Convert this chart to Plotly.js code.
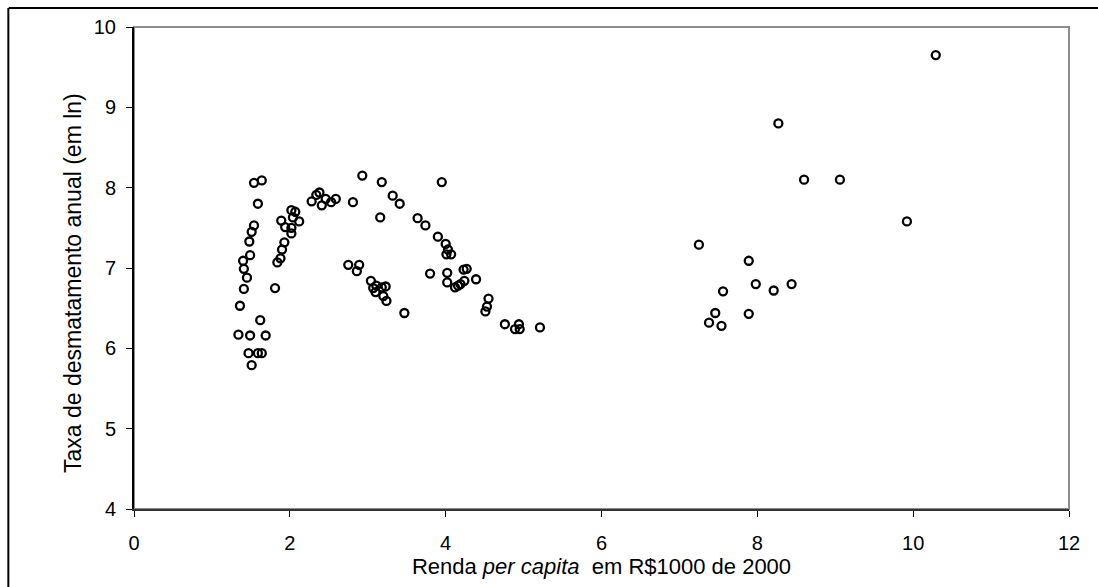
<!DOCTYPE html>
<html>
<head>
<meta charset="utf-8">
<script src="https://cdn.plot.ly/plotly-3.0.1.min.js"></script>
<style>
html,body{margin:0;padding:0;background:#fff;}
#chart{width:1098px;height:587px;}
</style>
</head>
<body>
<div id="chart"></div>
<script>
// Renda per capita (R$1000 de 2000)
const renda = [
  1.54, 1.64, 1.59, 1.54, 1.51, 1.48, 1.49, 1.40, 1.41, 1.45,
  1.41, 1.36, 1.62, 1.34, 1.49, 1.69, 1.47, 1.59, 1.64, 1.51,
  1.81, 1.84, 1.88, 1.90, 1.93, 1.89, 1.94, 2.02, 2.07, 2.04,
  2.12, 2.02, 2.02, 2.28, 2.34, 2.38, 2.41, 2.46, 2.53, 2.59,
  2.81, 2.93, 3.18, 3.32, 3.41, 3.16, 3.64, 2.75, 2.89, 2.86,
  3.04, 3.07, 3.11, 3.10, 3.18, 3.23, 3.20, 3.24, 3.47, 3.95,
  3.74, 3.90, 4.00, 4.03, 4.01, 4.07, 3.80, 4.02, 4.02, 4.12,
  4.16, 4.19, 4.24, 4.23, 4.27, 4.39, 4.55, 4.53, 4.51, 4.76,
  4.94, 4.89, 4.95, 5.21,
  10.29, 8.27, 8.60, 9.06, 9.92, 7.25, 7.89, 7.98, 8.21, 8.44,
  7.56, 7.46, 7.38, 7.54, 7.89
];
// Taxa de desmatamento anual (em ln)
const taxa = [
  8.06, 8.09, 7.80, 7.53, 7.45, 7.33, 7.16, 7.09, 6.99, 6.88,
  6.74, 6.53, 6.35, 6.17, 6.16, 6.16, 5.94, 5.94, 5.94, 5.79,
  6.75, 7.07, 7.12, 7.23, 7.32, 7.59, 7.51, 7.72, 7.70, 7.63,
  7.58, 7.50, 7.43, 7.83, 7.91, 7.94, 7.78, 7.86, 7.82, 7.86,
  7.82, 8.15, 8.07, 7.90, 7.80, 7.63, 7.62, 7.04, 7.04, 6.96,
  6.84, 6.75, 6.78, 6.70, 6.76, 6.77, 6.65, 6.59, 6.44, 8.07,
  7.53, 7.39, 7.30, 7.23, 7.17, 7.17, 6.93, 6.94, 6.82, 6.76,
  6.78, 6.80, 6.84, 6.98, 6.99, 6.86, 6.62, 6.52, 6.46, 6.30,
  6.30, 6.24, 6.24, 6.26,
  9.65, 8.80, 8.10, 8.10, 7.58, 7.29, 7.09, 6.80, 6.72, 6.80,
  6.71, 6.44, 6.32, 6.28, 6.43
];
const xTicks = [0, 2, 4, 6, 8, 10, 12];
const yTicks = [4, 5, 6, 7, 8, 9, 10];

const font = "Liberation Sans, Arial, sans-serif";

const trace = {
  x: renda, y: taxa, type: 'scatter', mode: 'markers',
  marker: {symbol: 'circle-open', size: 8, color: '#000', line: {width: 2.3, color: '#000'}},
  hoverinfo: 'skip', showlegend: false
};

const layout = {
  width: 1098, height: 587,
  margin: {l: 134, r: 29, t: 27, b: 78, pad: 0},
  paper_bgcolor: '#fff', plot_bgcolor: '#fff',
  font: {family: font, color: '#000', size: 20},
  xaxis: {
    range: [0, 12], tickvals: xTicks, ticktext: xTicks.map(String),
    showgrid: false, zeroline: false,
    showline: true, linecolor: '#333', linewidth: 2,
    ticks: 'outside', ticklen: 6, tickwidth: 1, tickcolor: '#000',
    ticklabelstandoff: 9,
    tickfont: {family: font, size: 20, color: '#000'},
    title: {text: 'Renda <i>per capita</i>  em R$1000 de 2000', font: {family: font, size: 22, color: '#000'}, standoff: 6}
  },
  yaxis: {
    range: [4, 10], tickvals: yTicks, ticktext: yTicks.map(String),
    showgrid: false, zeroline: false,
    showline: true, linecolor: '#000', linewidth: 2,
    ticks: 'outside', ticklen: 6, tickwidth: 1, tickcolor: '#000',
    ticklabelstandoff: 6,
    tickfont: {family: font, size: 20, color: '#000'}
  },
  annotations: [
    {text: 'Taxa de desmatamento anual (em ln)', textangle: -90,
     xref: 'paper', yref: 'paper', x: 0, y: 0.469, xanchor: 'center', yanchor: 'middle',
     xshift: -61, showarrow: false,
     font: {family: font, size: 23, color: '#000'}}
  ],
  shapes: [
    {type: 'rect', xref: 'paper', yref: 'paper', x0: 0, x1: 1, y0: 0, y1: 1,
     line: {color: '#8c8c8c', width: 2}, layer: 'below'},
    {type: 'line', xref: 'paper', yref: 'paper', x0: -0.134, x1: 1.1, y0: 1.0395, y1: 1.0395,
     line: {color: '#000', width: 2}},
    {type: 'line', xref: 'paper', yref: 'paper', x0: -0.1344, x1: -0.1344, y0: -0.3, y1: 1.0395,
     line: {color: '#000', width: 2}}
  ]
};

Plotly.newPlot('chart', [trace], layout, {displayModeBar: false, staticPlot: true});
</script>
</body>
</html>
